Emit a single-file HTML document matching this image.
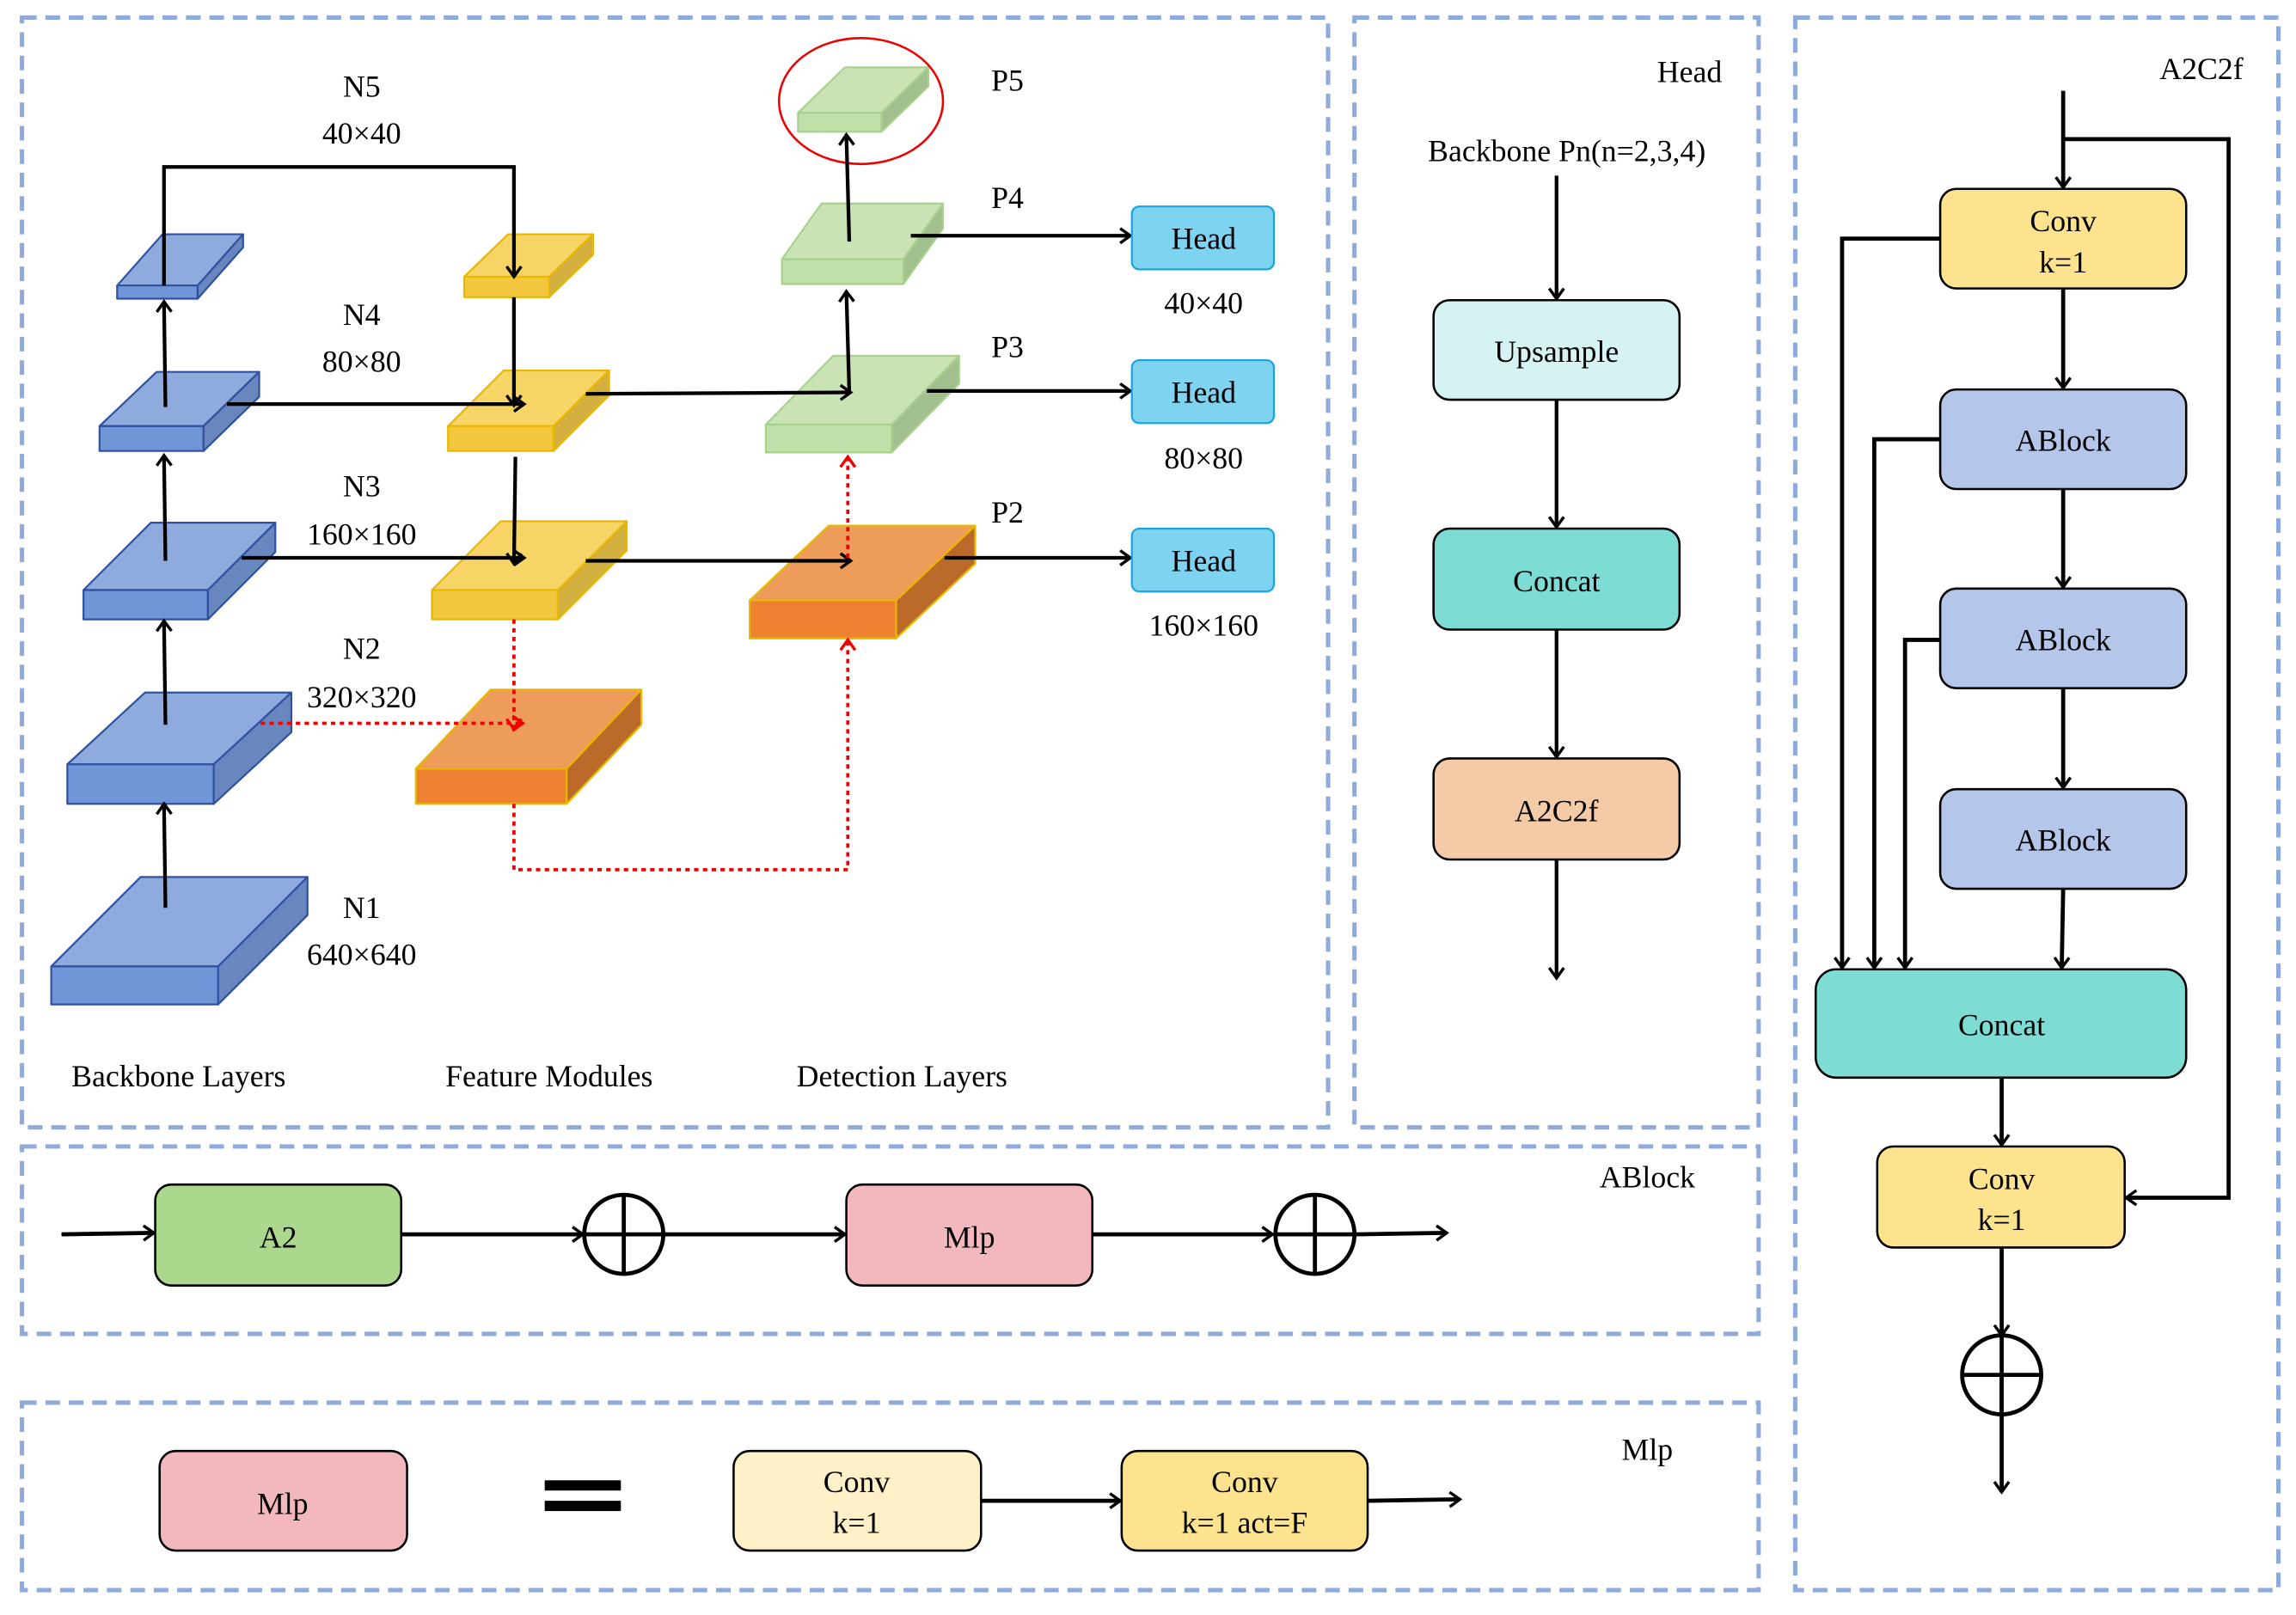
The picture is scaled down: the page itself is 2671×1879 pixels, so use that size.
<!DOCTYPE html>
<html><head><meta charset="utf-8"><style>
html,body{margin:0;padding:0;background:#fff;}
svg{display:block;}
text{font-family:"Liberation Serif",serif;font-size:21px;fill:#000;}
</style></head><body>
<svg width="2671" height="1879" viewBox="0 0 1568 1103" preserveAspectRatio="none" xmlns="http://www.w3.org/2000/svg">
<defs>
<marker id="a" markerWidth="12" markerHeight="12" refX="10" refY="6" orient="auto" markerUnits="userSpaceOnUse">
<path d="M3,1 L10,6 L3,11" fill="none" stroke="#000" stroke-width="2"/></marker>
<marker id="r" markerWidth="12" markerHeight="12" refX="10" refY="6" orient="auto" markerUnits="userSpaceOnUse">
<path d="M3,1 L10,6 L3,11" fill="none" stroke="#e00" stroke-width="2"/></marker>
</defs>
<g fill="none" stroke="#8faadc" stroke-width="3" stroke-dasharray="10,6">
<rect x="15" y="12" width="892" height="758"/>
<rect x="925" y="12" width="276" height="758"/>
<rect x="1226" y="12" width="330" height="1074"/>
<rect x="15" y="783" width="1186" height="128"/>
<rect x="15" y="958" width="1186" height="128"/>
</g>
<g stroke-width="1.3" stroke-linejoin="round">
<g stroke="#2f52a0">
<path d="M35,660 L96,599 L210,599 L149,660Z" fill="#8faadc"/><rect x="35" y="660" width="114" height="26" fill="#7096d8"/><path d="M149,660 L210,599 L210,625 L149,686Z" fill="#6a86bf"/>
<path d="M46,522 L99,473 L199,473 L146,522Z" fill="#8faadc"/><rect x="46" y="522" width="100" height="27" fill="#7096d8"/><path d="M146,522 L199,473 L199,500 L146,549Z" fill="#6a86bf"/>
<path d="M57,403 L103,357 L188,357 L142,403Z" fill="#8faadc"/><rect x="57" y="403" width="85" height="20" fill="#7096d8"/><path d="M142,403 L188,357 L188,377 L142,423Z" fill="#6a86bf"/>
<path d="M68,291 L107,254 L177,254 L139,291Z" fill="#8faadc"/><rect x="68" y="291" width="71" height="17" fill="#7096d8"/><path d="M139,291 L177,254 L177,271 L139,308Z" fill="#6a86bf"/>
<path d="M80,195 L111,160 L166,160 L135,195Z" fill="#8faadc"/><rect x="80" y="195" width="55" height="9" fill="#7096d8"/><path d="M135,195 L166,160 L166,169 L135,204Z" fill="#6a86bf"/>
</g>
<g stroke="#e8b800">
<path d="M317,189 L347,160 L405,160 L375,189Z" fill="#f6d465"/><rect x="317" y="189" width="58" height="14" fill="#f3c73d"/><path d="M375,189 L405,160 L405,174 L375,203Z" fill="#d4b040"/>
<path d="M306,291 L344,253 L416,253 L378,291Z" fill="#f6d465"/><rect x="306" y="291" width="72" height="17" fill="#f3c73d"/><path d="M378,291 L416,253 L416,270 L378,308Z" fill="#d4b040"/>
<path d="M295,403 L342,356 L428,356 L381,403Z" fill="#f6d465"/><rect x="295" y="403" width="86" height="20" fill="#f3c73d"/><path d="M381,403 L428,356 L428,376 L381,423Z" fill="#d4b040"/>
<path d="M284,525 L335,471 L438,471 L387,525Z" fill="#ee9c5a"/><rect x="284" y="525" width="103" height="24" fill="#ee8230"/><path d="M387,525 L438,471 L438,495 L387,549Z" fill="#bc6a2a"/>
<path d="M512,410 L566,359 L666,359 L612,410Z" fill="#ee9c5a"/><rect x="512" y="410" width="100" height="26" fill="#ee8230"/><path d="M612,410 L666,359 L666,385 L612,436Z" fill="#bc6a2a"/>
</g>
<g stroke="#a9d18e">
<path d="M523,290 L569,243 L655,243 L609,290Z" fill="#c9e3b5"/><rect x="523" y="290" width="86" height="19" fill="#bfe0a8"/><path d="M609,290 L655,243 L655,262 L609,309Z" fill="#a2c08e"/>
<path d="M534,177 L561,139 L644,139 L617,177Z" fill="#c9e3b5"/><rect x="534" y="177" width="83" height="17" fill="#bfe0a8"/><path d="M617,177 L644,139 L644,156 L617,194Z" fill="#a2c08e"/>
<path d="M545,77 L577,46 L634,46 L602,77Z" fill="#c9e3b5"/><rect x="545" y="77" width="57" height="13" fill="#bfe0a8"/><path d="M602,77 L634,46 L634,59 L602,90Z" fill="#a2c08e"/>
</g>
</g>
<ellipse cx="588" cy="69" rx="56" ry="43" fill="none" stroke="#e00" stroke-width="1.5"/>
<g fill="none" stroke="#000" stroke-width="2.5" marker-end="url(#a)">
<path d="M113,620 L112,549"/><path d="M113,495 L112,424"/><path d="M113,383 L112,311"/><path d="M113,278 L112,206"/>
<path d="M112,195 L112,114 L351,114 L351,189"/>
<path d="M155,276 L358,276"/><path d="M165,381 L358,381"/>
<path d="M351,203 L351,277"/><path d="M352,312 L351,385"/>
<path d="M400,269 L581,268"/><path d="M400,383 L581,383"/>
<path d="M580,268 L578,199"/><path d="M580,165 L578,92"/>
<path d="M622,161 L772,161"/><path d="M633,267 L772,267"/><path d="M645,381 L772,381"/>
</g>
<g fill="none" stroke="#e00" stroke-width="2.2" stroke-dasharray="3,3" marker-end="url(#r)">
<path d="M178,494 L357,494"/><path d="M351,423 L351,498"/>
<path d="M351,549 L351,594 L579,594 L579,437"/><path d="M579,381 L579,312"/>
</g>
<g stroke="#1aa3e0" stroke-width="1.3" fill="#7dd3f0">
<rect x="773" y="141" width="97" height="43" rx="5"/><rect x="773" y="246" width="97" height="43" rx="5"/><rect x="773" y="361" width="97" height="43" rx="5"/>
</g>
<g text-anchor="middle">
<text x="822" y="170">Head</text><text x="822" y="275">Head</text><text x="822" y="390">Head</text>
<text x="822" y="214">40×40</text><text x="822" y="320">80×80</text><text x="822" y="434">160×160</text>
<text x="247" y="66">N5</text><text x="247" y="98">40×40</text>
<text x="247" y="222">N4</text><text x="247" y="254">80×80</text>
<text x="247" y="339">N3</text><text x="247" y="372">160×160</text>
<text x="247" y="450">N2</text><text x="247" y="483">320×320</text>
<text x="247" y="627">N1</text><text x="247" y="659">640×640</text>
<text x="688" y="62">P5</text><text x="688" y="142">P4</text><text x="688" y="244">P3</text><text x="688" y="357">P2</text>
<text x="122" y="742">Backbone Layers</text><text x="375" y="742">Feature Modules</text><text x="616" y="742">Detection Layers</text>
</g>
<text x="1176" y="56" text-anchor="end">Head</text>
<text x="1070" y="110" text-anchor="middle">Backbone Pn(n=2,3,4)</text>
<g stroke="#000" stroke-width="1.5">
<rect x="979" y="205" width="168" height="68" rx="11" fill="#d5f3f2"/>
<rect x="979" y="361" width="168" height="69" rx="11" fill="#7ddcd3"/>
<rect x="979" y="518" width="168" height="69" rx="11" fill="#f5cba7"/>
</g>
<g text-anchor="middle"><text x="1063" y="247">Upsample</text><text x="1063" y="404">Concat</text><text x="1063" y="561">A2C2f</text></g>
<g fill="none" stroke="#000" stroke-width="2.5" marker-end="url(#a)">
<path d="M1063,120 L1063,204"/><path d="M1063,273 L1063,360"/><path d="M1063,430 L1063,517"/><path d="M1063,587 L1063,668"/>
</g>
<text x="1532" y="54" text-anchor="end">A2C2f</text>
<g stroke="#000" stroke-width="1.5">
<rect x="1325" y="129" width="168" height="68" rx="11" fill="#fde38e"/>
<rect x="1325" y="266" width="168" height="68" rx="11" fill="#b4c6ea"/>
<rect x="1325" y="402" width="168" height="68" rx="11" fill="#b4c6ea"/>
<rect x="1325" y="539" width="168" height="68" rx="11" fill="#b4c6ea"/>
<rect x="1240" y="662" width="253" height="74" rx="14" fill="#7ddcd3"/>
<rect x="1282" y="783" width="169" height="69" rx="11" fill="#fde38e"/>
</g>
<g text-anchor="middle">
<text x="1409" y="158">Conv</text><text x="1409" y="186">k=1</text>
<text x="1409" y="308">ABlock</text><text x="1409" y="444">ABlock</text><text x="1409" y="581">ABlock</text>
<text x="1367" y="707">Concat</text>
<text x="1367" y="812">Conv</text><text x="1367" y="840">k=1</text>
</g>
<g fill="none" stroke="#000" stroke-width="2.8" marker-end="url(#a)">
<path d="M1409,62 L1409,128"/><path d="M1409,95 L1522,95 L1522,818 L1452,818"/>
<path d="M1409,197 L1409,265"/><path d="M1409,334 L1409,401"/><path d="M1409,470 L1409,538"/><path d="M1409,607 L1408,661"/>
<path d="M1325,163 L1258,163 L1258,661"/><path d="M1325,300 L1280,300 L1280,661"/><path d="M1325,437 L1301,437 L1301,661"/>
<path d="M1367,736 L1367,782"/><path d="M1367,852 L1367,912"/><path d="M1367,939 L1367,1019"/>
</g>
<g fill="none" stroke="#000" stroke-width="2.8">
<ellipse cx="1367" cy="939" rx="27" ry="27"/><path d="M1340,939 L1394,939"/><path d="M1367,912 L1367,966"/>
</g>
<text x="1125" y="811" text-anchor="middle">ABlock</text>
<g stroke="#000" stroke-width="1.5">
<rect x="106" y="809" width="168" height="69" rx="11" fill="#acd88e"/>
<rect x="578" y="809" width="168" height="69" rx="11" fill="#f3b8be"/>
</g>
<g text-anchor="middle"><text x="190" y="852">A2</text><text x="662" y="852">Mlp</text></g>
<g fill="none" stroke="#000" stroke-width="2.8" marker-end="url(#a)">
<path d="M42,843 L105,842"/><path d="M274,843 L398,843"/><path d="M454,843 L577,843"/><path d="M746,843 L869,843"/><path d="M926,843 L988,842"/>
</g>
<g fill="none" stroke="#000" stroke-width="2.8">
<ellipse cx="426" cy="843" rx="27" ry="27"/><path d="M426,816 L426,870"/><path d="M399,843 L453,843"/>
<ellipse cx="898" cy="843" rx="27" ry="27"/><path d="M898,816 L898,870"/><path d="M871,843 L925,843"/>
</g>
<text x="1125" y="997" text-anchor="middle">Mlp</text>
<g stroke="#000" stroke-width="1.5">
<rect x="109" y="991" width="169" height="68" rx="11" fill="#f3b8be"/>
<rect x="501" y="991" width="169" height="68" rx="11" fill="#fff0c8"/>
<rect x="766" y="991" width="168" height="68" rx="11" fill="#fde38e"/>
</g>
<rect x="372" y="1011" width="52" height="7" fill="#000"/><rect x="372" y="1025" width="52" height="7" fill="#000"/>
<g text-anchor="middle">
<text x="193" y="1034">Mlp</text>
<text x="585" y="1019">Conv</text><text x="585" y="1047">k=1</text>
<text x="850" y="1019">Conv</text><text x="850" y="1047">k=1 act=F</text>
</g>
<g fill="none" stroke="#000" stroke-width="2.8" marker-end="url(#a)">
<path d="M670,1025 L765,1025"/><path d="M934,1025 L997,1024"/>
</g>
</svg>
</body></html>
